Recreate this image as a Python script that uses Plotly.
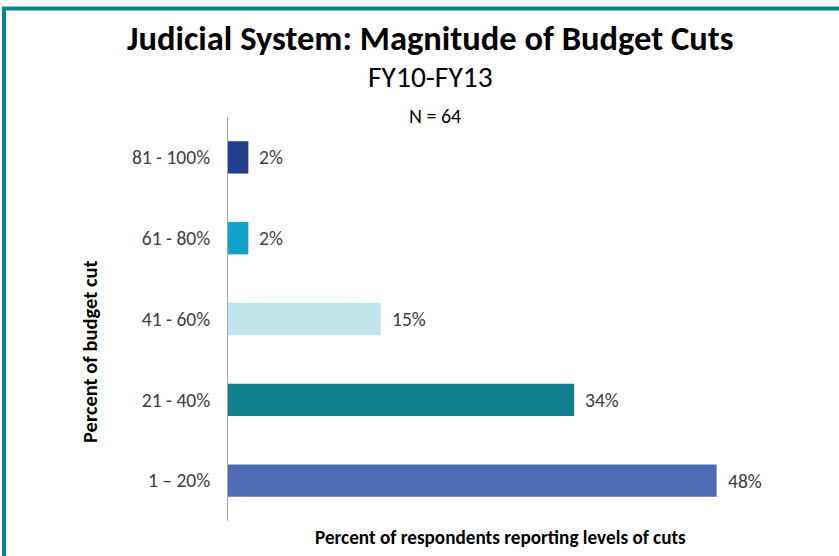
import plotly.graph_objects as go

# Budget-cut ranges (bottom to top) and share of respondents in each
categories = ["1 – 20%", "21 - 40%", "41 - 60%", "61 - 80%", "81 - 100%"]
values = [48, 34, 15, 2, 2]
value_labels = ["48%", "34%", "15%", "2%", "2%"]
colors = ["#4F6BB3", "#0E808E", "#C0E6EC", "#12A2C9", "#253F8E"]

FONT = "Calibri, Carlito, Lato, sans-serif"
W, H = 839, 556
L, R, T, B = 228, 102, 117, 35
pw, ph = W - L - R, H - T - B


def px_x(p):
    return (p - L) / pw


def px_y(p):
    return (H - B - p) / ph


fig = go.Figure(
    go.Bar(
        x=values,
        y=categories,
        orientation="h",
        marker=dict(color=colors, line=dict(width=0)),
        width=0.4,
        hoverinfo="skip",
    )
)

for v, c, lab in zip(values, categories, value_labels):
    fig.add_annotation(
        x=v, y=c, text=lab, showarrow=False, xanchor="left", xshift=9,
        font=dict(family=FONT, size=19.5, color="#404040"),
    )

texts = [
    ("<b>Judicial System: Magnitude of Budget Cuts</b>", 430, 38, 34.5, 0),
    ("FY10-FY13", 430, 77, 29.5, 0),
    ("N = 64", 435, 116, 20, 0),
    ("<b>Percent of respondents reporting levels of cuts</b>", 500, 537, 19.2, 0),
    ("<b>Percent of budget cut</b>", 90, 352, 20.5, -90),
]
for t, x, y, s, ang in texts:
    fig.add_annotation(
        x=px_x(x), y=px_y(y), xref="paper", yref="paper", text=t,
        showarrow=False, xanchor="center", yanchor="middle", textangle=ang,
        font=dict(family=FONT, size=s, color="#000000"),
    )

# teal frame around the slide area
fig.add_shape(
    type="rect", xref="paper", yref="paper",
    x0=px_x(4), x1=px_x(900), y0=px_y(8.5), y1=px_y(620),
    line=dict(color="#0E8390", width=4), fillcolor="rgba(0,0,0,0)",
    layer="below",
)

fig.update_layout(
    width=W, height=H,
    margin=dict(l=L, r=R, t=T, b=B),
    paper_bgcolor="white", plot_bgcolor="white",
    showlegend=False,
    font=dict(family=FONT),
    xaxis=dict(range=[0, 50], visible=False),
    yaxis=dict(
        range=[-0.5, 4.5], showgrid=False, zeroline=False,
        showline=True, linecolor="#A6A6A6", linewidth=1,
        ticks="", ticklabelstandoff=13,
        tickfont=dict(family=FONT, size=19.5, color="#404040"),
    ),
)

fig.write_html("out.html")
